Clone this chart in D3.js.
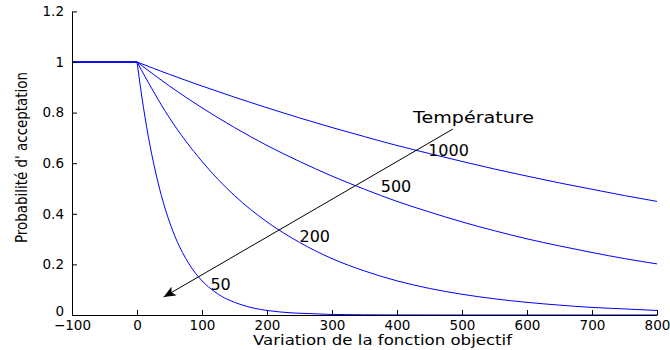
<!DOCTYPE html>
<html>
<head>
<meta charset="utf-8">
<script src="https://cdn.jsdelivr.net/npm/d3@7"></script>
<style>
  body { margin: 0; background: #fff; }
  svg { display: block; font-family: "DejaVu Sans", Arial, sans-serif; }
  .axis path, .axis line { stroke: #000; }
  .axis text { font-size: 13.5px; fill: #000; font-family: "DejaVu Sans", sans-serif; }
</style>
</head>
<body>
<svg id="chart" width="670" height="350"></svg>
<script>
// values
const flatX = [-100, 0];
const flatY = [1, 1];

const xCoarse = [0, 50, 100, 150, 200, 250, 300, 350, 400, 450, 500, 550, 600, 650, 700, 750, 800];
const y1000 = [1, 0.951, 0.905, 0.861, 0.819, 0.779, 0.741, 0.705, 0.670, 0.638, 0.607, 0.577, 0.549, 0.522, 0.497, 0.472, 0.449];
const y500 = [1, 0.905, 0.819, 0.741, 0.670, 0.607, 0.549, 0.497, 0.449, 0.407, 0.368, 0.333, 0.301, 0.273, 0.247, 0.223, 0.202];
const y200 = [1, 0.779, 0.607, 0.472, 0.368, 0.287, 0.223, 0.174, 0.135, 0.105, 0.082, 0.064, 0.050, 0.039, 0.030, 0.024, 0.018];

const xFine = [0, 10, 20, 30, 40, 50, 60, 70, 80, 90, 100, 110, 120, 130, 140, 150, 160, 170, 180, 190, 200,
  220, 240, 260, 280, 300, 400, 500, 600, 700, 800];
const y50 = [1, 0.819, 0.670, 0.549, 0.449, 0.368, 0.301, 0.247, 0.202, 0.165, 0.135, 0.111, 0.091, 0.074, 0.061,
  0.050, 0.041, 0.033, 0.027, 0.022, 0.018, 0.012, 0.008, 0.006, 0.004, 0.002, 0.0003, 0, 0, 0, 0];

const series = [
  { temp: 1000, xs: xCoarse, ys: y1000 },
  { temp: 500, xs: xCoarse, ys: y500 },
  { temp: 200, xs: xCoarse, ys: y200 },
  { temp: 50, xs: xFine, ys: y50 }
];

// curve labels: [text, x, y] in data units
const curveLabels = [
  ['1000', 448, 0.63],
  ['500', 375, 0.485],
  ['200', 250, 0.29],
  ['50', 113, 0.10]
];
const arrowFrom = [486, 0.735];
const arrowTo = [41, 0.071];

const xTicks = [-100, 0, 100, 200, 300, 400, 500, 600, 700, 800];
const yTicks = [0, 0.2, 0.4, 0.6, 0.8, 1, 1.2];

const svg = d3.select('#chart');
const x = d3.scaleLinear().domain([-100, 800]).range([72, 657]);
const y = d3.scaleLinear().domain([0, 1.2]).range([315, 11.4]);
const fmt = d3.format('~g');

const line = d3.line()
  .x(d => x(d[0]))
  .y(d => y(d[1]))
  .curve(d3.curveMonotoneX);

series.forEach(s => {
  svg.append('path')
    .attr('d', line(d3.zip(flatX, flatY)))
    .attr('fill', 'none')
    .attr('stroke', '#0000ff')
    .attr('stroke-width', 1);
  svg.append('path')
    .attr('d', line(d3.zip(s.xs, s.ys)))
    .attr('fill', 'none')
    .attr('stroke', '#0000ff')
    .attr('stroke-width', 1);
});

// axes, ticks pointing inward
svg.append('g')
  .attr('class', 'axis')
  .attr('transform', `translate(0,${y(0)})`)
  .call(d3.axisBottom(x).tickValues(xTicks).tickFormat(fmt).tickSizeInner(-5).tickSizeOuter(0))
  .call(g => g.selectAll('text').attr('y', 15).attr('dy', null));

svg.append('g')
  .attr('class', 'axis')
  .attr('transform', `translate(${x(-100)},0)`)
  .call(d3.axisLeft(y).tickValues(yTicks).tickFormat(fmt).tickSizeInner(-5).tickSizeOuter(0).tickPadding(8))
  .call(g => g.selectAll('.tick').filter(d => d === 0).select('text').attr('dy', '0em'));

// arrow
svg.append('defs').append('marker')
  .attr('id', 'head')
  .attr('viewBox', '0 0 12 10')
  .attr('refX', 12).attr('refY', 5)
  .attr('markerWidth', 12).attr('markerHeight', 10)
  .attr('markerUnits', 'userSpaceOnUse')
  .attr('orient', 'auto')
  .append('path')
  .attr('d', 'M0,0 L12,5 L0,10 L3,5 Z')
  .attr('fill', '#000');

svg.append('line')
  .attr('x1', x(arrowFrom[0])).attr('y1', y(arrowFrom[1]))
  .attr('x2', x(arrowTo[0])).attr('y2', y(arrowTo[1]))
  .attr('stroke', '#000')
  .attr('stroke-width', 1)
  .attr('marker-end', 'url(#head)');

svg.append('text')
  .attr('x', 413).attr('y', 123)
  .attr('font-size', 16)
  .attr('textLength', 121)
  .attr('lengthAdjust', 'spacingAndGlyphs')
  .text('Température');

curveLabels.forEach(([t, lx, ly]) => {
  svg.append('text')
    .attr('x', x(lx)).attr('y', y(ly))
    .attr('font-size', 16)
    .text(t);
});

// axis titles
svg.append('text')
  .attr('x', 253).attr('y', 345)
  .attr('font-size', 14.5)
  .attr('textLength', 259)
  .attr('lengthAdjust', 'spacingAndGlyphs')
  .text('Variation de la fonction objectif');

svg.append('text')
  .attr('transform', 'translate(27,157.5) rotate(-90)')
  .attr('text-anchor', 'middle')
  .attr('font-size', 15)
  .attr('textLength', 171)
  .attr('lengthAdjust', 'spacingAndGlyphs')
  .text("Probabilité d' acceptation");
</script>
</body>
</html>
